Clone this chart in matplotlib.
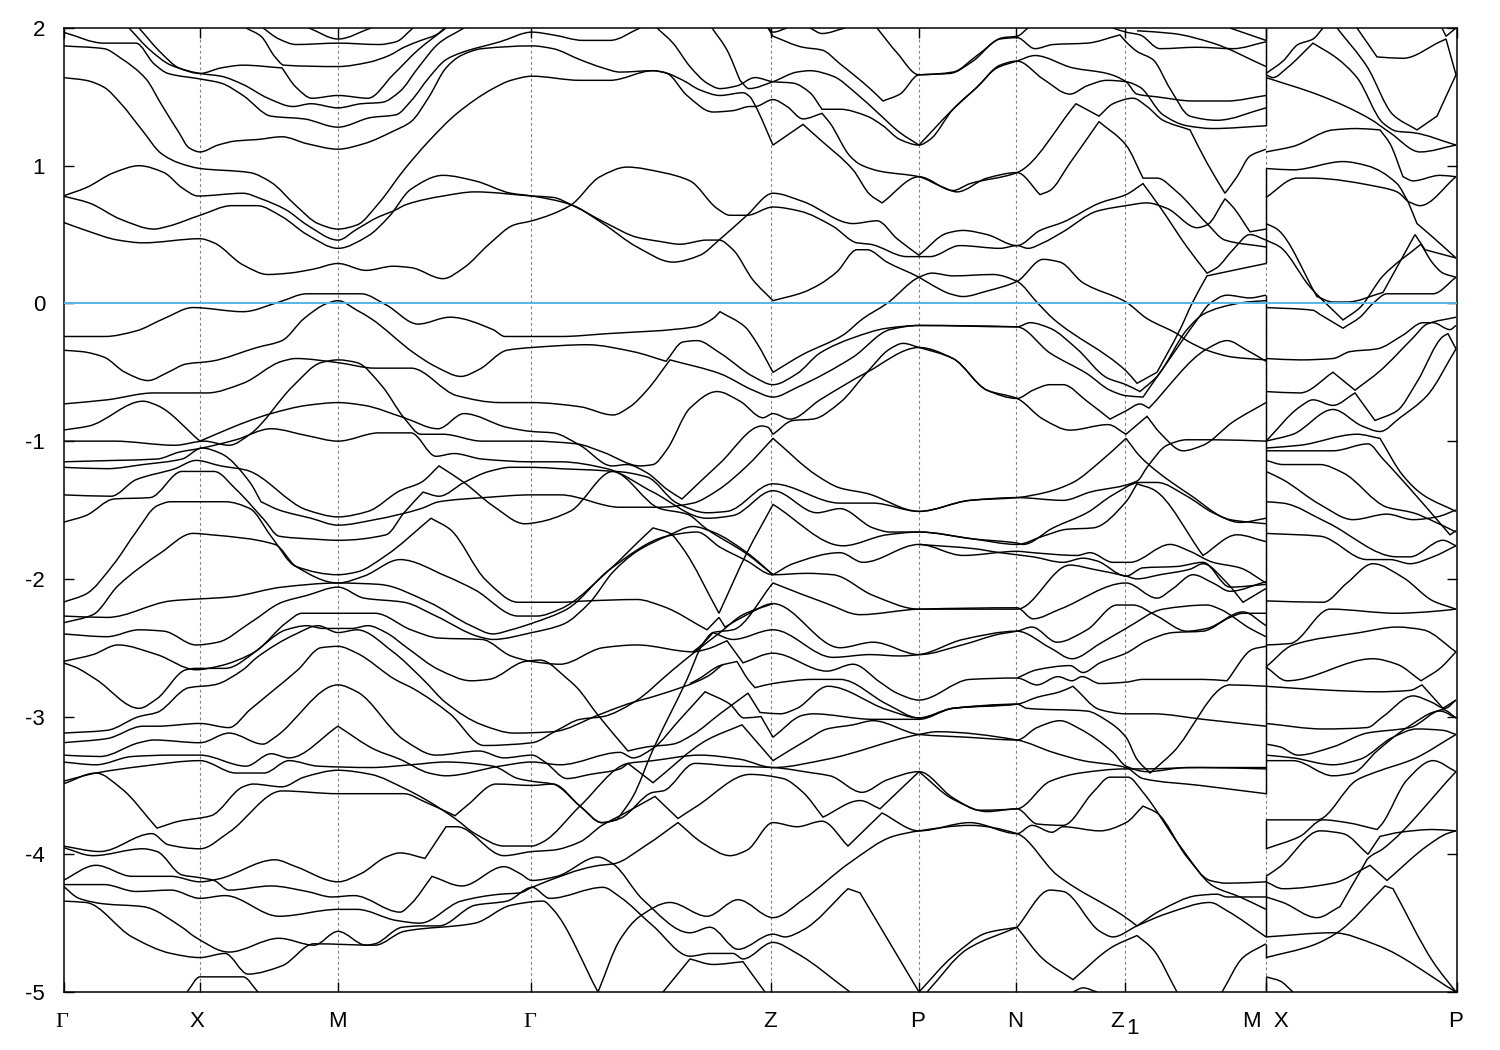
import matplotlib
matplotlib.use('Agg')
import matplotlib.pyplot as plt
from matplotlib.path import Path
from matplotlib.patches import PathPatch
from matplotlib.transforms import ScaledTranslation

plt.rcParams['font.family'] = ['Liberation Sans', 'DejaVu Sans']

tick_k = [64, 200, 338, 531, 771, 919, 1016, 1125, 1266, 1457]
tick_names = ['\u0393', 'X', 'M', '\u0393', 'Z', 'P', 'N', 'Z', 'M  X', 'P']
label_shift = [-2, -3, -1, -1, -1, -1, -1, -8, 0, -1]
energy_ticks = [-5, -4, -3, -2, -1, 0, 1, 2]

# solid black runs at the M|X break (bands jump there)
jump_low = [1.29, 0.29, -3.56, -3.96, -4.60, -4.75, -5.0]
jump_high = [2.0, 0.98, 0.06, -3.75, -4.16, -4.65, -4.89]

# bands above the Fermi level, first part of the path
b_top1 = [(63,1.97),(104,1.89),(136,1.89),(154,1.74),(168,1.67),(200,1.63),(221,1.60),(243,1.51),(271,1.36),(304,1.34),(338,1.28),(371,1.35),(396,1.37),(411,1.47),(429,1.64),(446,1.77),(461,1.82),(500,1.90),(532,1.97),(553,1.95),(583,1.91),(610,1.91),(640,2.0)]
b_top2 = [(63,1.87),(104,1.85),(121,1.78),(146,1.63),(161,1.45),(179,1.24),(189,1.13),(200,1.10),(218,1.15),(236,1.18),(257,1.19),(282,1.21),(307,1.16),(338,1.12),(364,1.16),(393,1.25),(411,1.32),(429,1.50),(446,1.71),(461,1.80),(482,1.85),(532,1.87),(553,1.85),(580,1.77),(603,1.71),(620,1.68),(653,1.69),(663,1.68),(683,1.62),(700,1.55),(720,1.51),(743,1.53),(750,1.50),(755,1.44),(773,1.15),(803,1.30),(820,1.19),(853,.97),(870,.79),(882,.73),(919,.92),(953,.82),(970,.87),(1017,.95),(1076,1.45),(1099,1.36),(1113,1.45),(1133,1.49),(1147,1.43),(1163,1.33),(1190,1.26),(1207,1.02),(1225,.80),(1237,.92),(1250,1.07),(1266,1.12)]
b_top3 = [(63,1.64),(86,1.62),(104,1.57),(121,1.45),(143,1.25),(161,1.09),(179,1.02),(200,.98),(250,.95),(271,.88),(296,.71),(318,.58),(338,.54),(357,.57),(379,.73),(404,.97),(429,1.18),(457,1.38),(493,1.56),(511,1.62),(532,1.65),(580,1.62),(610,1.62),(653,1.69),(667,1.67),(687,1.51),(713,1.39),(733,1.40),(750,1.43),(755,1.43),(773,1.48),(787,1.43),(803,1.34),(822,1.38),(830,1.31),(850,1.07),(860,1.01),(880,.96),(919,.92),(941,.85),(957,.81),(987,.91),(1017,.95),(1040,.79),(1050,.82),(1070,1.02),(1099,1.32),(1126,1.15),(1143,.91),(1157,.91),(1177,.81),(1207,.58),(1225,.46),(1266,.41)]
b_top4 = [(129,2.0),(150,1.84),(171,1.73),(200,1.67),(221,1.65),(243,1.59),(268,1.49),(293,1.43),(311,1.45),(338,1.42),(361,1.45),(382,1.46),(400,1.54),(418,1.71),(439,1.89),(464,2.0)]
b_top5 = [(139,2.0),(161,1.82),(179,1.71),(200,1.67),(221,1.71),(243,1.73),(282,1.71),(296,1.57),(312,1.49),(338,1.51),(368,1.49),(393,1.66),(418,1.84),(446,2.0)]
b_top6 = [(246,2.0),(261,1.94),(275,1.79),(284,1.73),(338,1.72),(368,1.75),(389,1.80),(404,1.86),(421,1.91),(436,1.95),(445,2.0)]
b_top7 = [(263,2.0),(279,1.92),(296,1.88),(338,1.89),(379,1.88),(396,1.90),(413,2.0)]
b_top8 = [(309,2.0),(338,1.92),(371,2.0)]
b_top9 = [(657,2.0),(673,1.89),(690,1.72),(707,1.60),(720,1.56),(737,1.58),(755,1.64),(773,1.61),(793,1.60),(810,1.53),(822,1.41),(840,1.41),(867,1.36),(883,1.29),(900,1.19),(919,1.15),(930,1.19),(953,1.41),(977,1.57),(997,1.71),(1017,1.76),(1035,1.80),(1073,1.71),(1107,1.67),(1126,1.61),(1137,1.52),(1157,1.50),(1193,1.47),(1227,1.47),(1266,1.51)]
b_top10 = [(712,2.0),(727,1.84),(740,1.62),(749,1.56),(773,1.61),(797,1.68),(810,1.69),(833,1.65),(857,1.52),(877,1.39),(900,1.24),(919,1.15),(953,1.41),(977,1.57),(1000,1.73),(1017,1.76),(1043,1.63),(1070,1.52),(1087,1.58),(1107,1.62),(1126,1.61),(1140,1.57),(1163,1.37),(1187,1.29),(1213,1.27),(1266,1.29)]
b_top11 = [(768,2.0),(773,1.94),(803,1.86),(822,1.84),(840,1.74),(870,1.56),(883,1.47),(900,1.52),(919,1.66),(950,1.67),(973,1.76),(1000,1.92),(1017,1.93),(1035,1.85),(1053,1.88),(1087,1.89),(1120,1.95),(1126,1.90),(1137,1.83),(1153,1.77),(1170,1.56),(1190,1.36),(1217,1.33),(1266,1.42)]
b_top12 = [(768,2.0),(773,1.97),(787,2.0)]
b_top13 = [(810,2.0),(822,1.96),(845,2.0)]
b_top14 = [(877,2.0),(897,1.82),(919,1.66),(953,1.68),(977,1.80),(1003,1.93),(1017,1.94),(1028,2.0)]
b_top15 = [(1113,2.0),(1126,1.97),(1140,1.95),(1160,1.85),(1197,1.86),(1233,1.85),(1266,1.90)]
b_top16 = [(1137,1.98),(1173,1.96),(1213,1.89),(1266,1.72)]
b_top17 = [(1230,2.0),(1266,1.91)]

# bands around 0.5 eV
b_mid1 = [(63,.78),(86,.84),(114,.95),(139,1.0),(164,.95),(182,.84),(198,.78),(243,.80),(261,.76),(286,.68),(307,.57),(338,.46),(357,.54),(379,.63),(393,.67),(407,.72),(443,.78),(475,.81),(532,.78),(553,.77),(573,.71),(607,.58),(637,.48),(660,.45),(680,.43),(707,.46),(719,.46),(733,.39),(753,.17),(773,.02),(803,.08),(820,.14),(837,.23),(857,.39),(867,.39),(887,.30),(919,.19),(933,.13),(950,.07),(963,.05),(987,.09),(1017,.16),(1043,.32),(1060,.30),(1083,.15),(1126,.01),(1147,-.11),(1177,-.22),(1187,-.27),(1207,-.34),(1233,-.39),(1266,-.41)]
b_mid2 = [(63,.78),(89,.73),(121,.61),(154,.54),(168,.56),(200,.64),(232,.71),(257,.71),(282,.63),(307,.50),(338,.40),(368,.49),(389,.63),(411,.83),(443,.93),(475,.89),(511,.80),(532,.78),(570,.72),(603,.58),(637,.41),(673,.30),(700,.35),(719,.46),(747,.64),(773,.80),(803,.74),(853,.58),(877,.60),(897,.47),(919,.35),(947,.51),(963,.53),(987,.50),(1017,.42),(1040,.53),(1063,.59),(1100,.73),(1126,.79),(1143,.87),(1160,.70),(1187,.41),(1207,.22),(1217,.26),(1233,.39),(1250,.50),(1266,.46)]
b_mid3 = [(63,.59),(86,.53),(118,.46),(143,.44),(200,.47),(214,.44),(243,.28),(268,.21),(289,.22),(314,.25),(338,.29),(366,.24),(393,.27),(411,.26),(443,.18),(464,.26),(489,.43),(514,.57),(532,.60),(570,.71),(600,.92),(627,.99),(663,.95),(690,.89),(717,.69),(730,.64),(747,.64),(773,.70),(800,.67),(833,.56),(857,.44),(870,.43),(907,.34),(930,.34),(960,.42),(1000,.40),(1017,.42),(1028,.40),(1043,.44),(1063,.52),(1097,.67),(1126,.71),(1147,.73),(1167,.69),(1197,.55),(1207,.57),(1225,.76),(1233,.70),(1250,.52),(1266,.54)]
b_fermi = [(63,-.24),(105,-.24),(136,-.20),(164,-.11),(193,-.03),(243,-.06),(279,.01),(307,.07),(361,.07),(386,-.01),(418,-.15),(450,-.10),(493,-.19),(505,-.24),(561,-.24),(606,-.22),(695,-.17),(713,-.11),(720,-.06),(745,-.17),(757,-.29),(773,-.50),(803,-.37),(843,-.23),(863,-.11),(887,0),(919,.19),(932,.22),(953,.20),(993,.21),(1017,.16),(1038,0),(1053,-.11),(1126,-.49),(1137,-.58),(1157,-.50),(1180,-.19),(1192,0),(1207,.20),(1233,.24),(1266,.29)]

# bands just below the Fermi level
b_low1 = [(63,-.34),(82,-.35),(104,-.39),(125,-.50),(148,-.56),(168,-.50),(186,-.44),(211,-.42),(257,-.32),(282,-.27),(304,-.11),(327,0),(338,.02),(357,-.05),(371,-.11),(414,-.36),(436,-.46),(461,-.53),(479,-.48),(507,-.34),(532,-.32),(587,-.30),(633,-.35),(666,-.42),(683,-.28),(697,-.27),(720,-.36),(753,-.53),(773,-.59),(797,-.51),(820,-.36),(853,-.25),(887,-.18),(920,-.16),(1017,-.17),(1050,-.36),(1087,-.51),(1110,-.63),(1126,-.67),(1143,-.68),(1167,-.43),(1197,-.12),(1210,0),(1227,.06),(1250,.04),(1266,.06)]
b_low2 = [(63,-.73),(107,-.70),(154,-.65),(207,-.65),(243,-.58),(282,-.42),(296,-.40),(338,-.43),(375,-.47),(411,-.47),(457,-.67),(500,-.72),(532,-.72),(580,-.75),(613,-.81),(630,-.75),(647,-.63),(670,-.41),(720,-.51),(753,-.63),(773,-.68),(797,-.61),(853,-.39),(890,-.19),(919,-.16),(1017,-.17),(1030,-.14),(1050,-.18),(1077,-.33),(1107,-.54),(1126,-.59),(1140,-.64),(1157,-.53),(1187,-.19),(1203,-.08),(1220,-.03),(1247,.01),(1266,.02)]
b_low3 = [(63,-.92),(89,-.89),(143,-.71),(157,-.74),(200,-1.0),(229,-.91),(250,-.85),(271,-.80),(307,-.74),(338,-.72),(364,-.74),(404,-.83),(438,-.91),(464,-.80),(507,-.90),(532,-.93),(553,-.94),(580,-1.03),(612,-1.18),(627,-1.17),(647,-1.23),(667,-1.35),(682,-1.42),(720,-1.16),(762,-.89),(768,-.90),(773,-.95),(793,-.85),(813,-.84),(840,-.72),(867,-.50),(890,-.33),(903,-.29),(919,-.32),(953,-.40),(987,-.63),(1017,-.69),(1033,-.63),(1050,-.59),(1063,-.59),(1087,-.71),(1110,-.84),(1126,-.78),(1140,-.73),(1149,-.76),(1207,-.33),(1227,-.27),(1247,-.34),(1266,-.42)]
b_low4 = [(63,-1.0),(114,-1.0),(175,-1.03),(204,-1.0),(229,-1.03),(250,-.95),(293,-.60),(321,-.43),(338,-.41),(357,-.43),(382,-.60),(404,-.83),(421,-.95),(443,-.95),(482,-1.0),(532,-1.0),(577,-1.02),(603,-1.08),(640,-1.18),(653,-1.17),(667,-1.06),(690,-.76),(717,-.64),(740,-.71),(763,-.83),(773,-.80),(790,-.84),(820,-.70),(867,-.50),(919,-.32),(953,-.40),(987,-.63),(1017,-.69),(1043,-.84),(1070,-.92),(1108,-.88),(1126,-.95),(1147,-.82),(1160,-.94),(1183,-1.07),(1203,-1.03),(1233,-.86),(1266,-.72)]

# the -1 to -2.5 eV block
b_c1 = [(63,-1.15),(114,-1.14),(157,-1.13),(179,-1.08),(202,-1.05),(236,-.99),(271,-.91),(307,-.96),(338,-1.0),(379,-.94),(411,-.94),(436,-1.11),(454,-1.09),(482,-1.13),(532,-1.15),(560,-1.15),(607,-1.20),(653,-1.37),(707,-1.56),(733,-1.54),(773,-1.36),(817,-1.52),(840,-1.49),(873,-1.63),(890,-1.66),(919,-1.66),(973,-1.71),(1017,-1.74),(1023,-1.75),(1053,-1.63),(1087,-1.52),(1113,-1.39),(1140,-1.30),(1157,-1.30),(1187,-1.40),(1213,-1.52),(1240,-1.59),(1266,-1.56)]
b_c2 = [(63,-1.19),(107,-1.20),(143,-1.17),(182,-1.13),(202,-1.05),(221,-1.09),(250,-1.30),(261,-1.44),(279,-1.50),(311,-1.56),(338,-1.61),(375,-1.57),(421,-1.49),(439,-1.44),(484,-1.41),(532,-1.39),(560,-1.39),(620,-1.48),(660,-1.48),(693,-1.45),(717,-1.36),(747,-1.18),(773,-.98),(817,-1.25),(840,-1.34),(867,-1.38),(919,-1.51),(970,-1.43),(1017,-1.41),(1047,-1.37),(1073,-1.30),(1100,-1.15),(1126,-.98),(1140,-1.11),(1157,-1.22),(1190,-1.39),(1230,-1.57),(1266,-1.60)]
b_c3 = [(63,-1.39),(111,-1.40),(136,-1.28),(175,-1.20),(196,-1.14),(221,-1.18),(246,-1.21),(307,-1.50),(338,-1.55),(368,-1.51),(400,-1.36),(421,-1.30),(439,-1.18),(464,-1.30),(493,-1.47),(525,-1.60),(537,-1.59),(570,-1.51),(613,-1.22),(647,-1.26),(677,-1.45),(707,-1.52),(727,-1.51),(773,-1.31),(840,-1.45),(873,-1.45),(919,-1.51),(970,-1.43),(1017,-1.41),(1063,-1.43),(1090,-1.37),(1137,-1.29),(1148,-1.18),(1167,-1.03),(1187,-.99),(1213,-.99),(1266,-1.0)]
b_c4 = [(63,-1.59),(86,-1.54),(114,-1.42),(150,-1.41),(182,-1.22),(214,-1.22),(236,-1.35),(264,-1.57),(279,-1.69),(311,-1.71),(338,-1.72),(386,-1.68),(404,-1.52),(423,-1.37),(439,-1.40),(464,-1.30),(489,-1.22),(511,-1.19),(532,-1.19),(560,-1.20),(613,-1.22),(660,-1.49),(687,-1.53),(707,-1.64),(747,-1.82),(773,-1.97),(793,-1.89),(840,-1.81),(863,-1.88),(919,-1.75),(963,-1.83),(1017,-1.80),(1033,-1.81),(1077,-1.83),(1090,-1.81),(1113,-1.88),(1130,-1.88),(1170,-1.75),(1190,-1.80),(1213,-1.88),(1240,-1.92),(1266,-2.03)]
b_c5 = [(63,-2.17),(86,-2.11),(114,-1.89),(136,-1.66),(157,-1.47),(171,-1.44),(225,-1.44),(250,-1.49),(271,-1.69),(296,-1.91),(338,-1.97),(357,-1.95),(386,-1.83),(431,-1.56),(450,-1.64),(486,-2.01),(518,-2.17),(560,-2.17),(587,-2.16),(637,-2.15),(663,-2.20),(707,-2.37),(719,-2.28),(725,-2.35),(747,-2.26),(773,-2.18),(840,-2.50),(873,-2.46),(919,-2.55),(962,-2.48),(1000,-2.40),(1017,-2.38),(1032,-2.35),(1057,-2.46),(1087,-2.37),(1117,-2.19),(1133,-2.19),(1157,-2.27),(1187,-2.38),(1207,-2.36),(1243,-2.24),(1266,-2.34)]
b_c6 = [(63,-2.32),(93,-2.26),(118,-2.05),(161,-1.81),(193,-1.67),(211,-1.68),(275,-1.75),(296,-1.91),(338,-2.03),(364,-1.98),(400,-1.86),(446,-1.98),(475,-2.08),(518,-2.27),(537,-2.27),(560,-2.22),(613,-1.91),(637,-1.74),(653,-1.63),(670,-1.67),(683,-1.78),(719,-2.25),(747,-1.81),(773,-1.46),(843,-1.76),(887,-1.68),(919,-1.66),(973,-1.71),(1017,-1.75),(1043,-1.69),(1067,-1.64),(1093,-1.63),(1126,-1.44),(1137,-1.31),(1153,-1.35),(1203,-1.83),(1237,-1.68),(1266,-1.73)]
b_c7 = [(63,-2.27),(107,-2.28),(171,-2.16),(232,-2.13),(282,-2.06),(338,-2.03),(379,-2.04),(429,-2.17),(471,-2.34),(493,-2.40),(511,-2.37),(533,-2.32),(567,-2.22),(610,-1.93),(667,-1.69),(697,-1.66),(720,-1.77),(747,-1.87),(773,-1.97),(807,-1.96),(833,-1.97),(873,-2.12),(919,-2.22),(1017,-2.22),(1070,-1.90),(1093,-1.93),(1126,-1.98),(1137,-2.0),(1160,-1.97),(1190,-1.93),(1203,-1.89),(1227,-2.03),(1243,-2.17),(1266,-2.07)]
b_c8 = [(63,-2.40),(107,-2.42),(139,-2.37),(164,-2.38),(196,-2.48),(218,-2.46),(250,-2.32),(282,-2.17),(307,-2.12),(338,-2.06),(364,-2.14),(404,-2.17),(436,-2.27),(479,-2.42),(493,-2.44),(532,-2.39),(563,-2.33),(590,-2.17),(613,-1.95),(637,-1.80),(667,-1.69),(693,-1.62),(713,-1.66),(747,-1.81),(773,-1.97)]
b_c9 = [(63,-2.60),(93,-2.55),(118,-2.48),(157,-2.55),(196,-2.66),(221,-2.63),(250,-2.55),(286,-2.37),(307,-2.34),(323,-2.36),(352,-2.36),(368,-2.34),(386,-2.39),(407,-2.50),(439,-2.66),(471,-2.74),(489,-2.73),(525,-2.60),(540,-2.59),(568,-2.73),(577,-2.79),(598,-2.99),(628,-3.25),(647,-3.22),(673,-3.20),(693,-3.13),(720,-2.98),(748,-2.83),(760,-2.97),(780,-2.98),(797,-2.94),(828,-2.78),(887,-2.95),(919,-3.01),(953,-2.94),(1017,-2.91),(1027,-2.94),(1087,-2.96),(1107,-3.03),(1126,-3.15),(1137,-3.31),(1150,-3.41),(1173,-3.26),(1230,-2.77),(1266,-2.78)]
b_c10 = [(63,-2.61),(75,-2.64),(96,-2.73),(139,-2.94),(157,-2.87),(186,-2.66),(196,-2.65),(225,-2.65),(257,-2.52),(286,-2.32),(302,-2.25),(375,-2.25),(411,-2.37),(439,-2.43),(482,-2.44),(511,-2.56),(532,-2.60),(560,-2.62),(603,-2.50),(637,-2.48),(693,-2.53),(707,-2.51),(727,-2.45),(743,-2.61),(773,-2.54),(827,-2.67),(853,-2.62),(880,-2.75),(897,-2.83),(919,-2.88),(970,-2.73),(1017,-2.72),(1037,-2.77),(1058,-2.71),(1072,-2.74),(1082,-2.71),(1100,-2.76),(1126,-2.75),(1143,-2.73),(1203,-2.73),(1227,-2.74),(1253,-2.51),(1266,-2.49)]

# -3 to -5 eV block
b_q1 = [(63,-3.12),(107,-3.10),(139,-3.0),(157,-2.97),(189,-2.79),(214,-2.77),(243,-2.66),(257,-2.57),(296,-2.40),(318,-2.34),(338,-2.39),(357,-2.37),(393,-2.53),(423,-2.73),(446,-2.90),(482,-3.06),(514,-3.12),(553,-3.11),(598,-2.99),(627,-2.91),(660,-2.84),(707,-2.71),(723,-2.62)]
b_q2 = [(63,-3.19),(107,-3.16),(143,-3.07),(157,-3.07),(200,-3.05),(229,-3.08),(250,-2.95),(275,-2.80),(298,-2.66),(321,-2.50),(338,-2.49),(357,-2.54),(395,-2.73),(414,-2.80),(450,-2.98),(484,-3.21),(532,-3.19),(557,-3.10),(580,-3.02),(603,-3.0),(633,-2.90),(673,-2.66),(695,-2.53),(720,-2.39),(743,-2.26),(773,-2.18)]
b_q3 = [(63,-3.28),(100,-3.29),(139,-3.19),(154,-3.17),(200,-3.19),(229,-3.12),(263,-3.20),(275,-3.15),(338,-2.77),(357,-2.82),(404,-3.17),(436,-3.28),(479,-3.25),(504,-3.30),(532,-3.28),(545,-3.33),(567,-3.45),(590,-3.42),(620,-3.38),(628,-3.34),(653,-3.48),(707,-3.17),(742,-3.06),(773,-3.32),(807,-3.17),(827,-3.09),(853,-3.06),(873,-3.03),(919,-3.13),(967,-3.15),(1017,-3.17),(1037,-3.08),(1060,-3.03),(1080,-3.09),(1113,-3.26),(1126,-3.36),(1147,-3.40),(1187,-3.37),(1266,-3.37)]
b_q4 = [(63,-3.33),(96,-3.35),(132,-3.29),(171,-3.28),(200,-3.28),(246,-3.36),(271,-3.27),(289,-3.30),(338,-3.07),(375,-3.24),(400,-3.31),(429,-3.41),(446,-3.43),(500,-3.36),(532,-3.33),(560,-3.35),(620,-3.26),(633,-3.30),(653,-3.23),(680,-3.02),(705,-2.82),(730,-2.91),(744,-3.01),(761,-3.0),(773,-3.15),(803,-2.99),(813,-2.98),(873,-3.02),(919,-3.02),(953,-2.94),(1017,-2.91),(1037,-2.86),(1060,-2.82),(1073,-2.78),(1100,-2.95),(1126,-2.98),(1153,-2.98),(1203,-3.02),(1266,-3.07)]
b_q5 = [(63,-3.47),(96,-3.41),(143,-3.36),(200,-3.32),(236,-3.41),(264,-3.41),(289,-3.32),(318,-3.36),(371,-3.37),(411,-3.35),(446,-3.33),(493,-3.36),(518,-3.45),(532,-3.47),(553,-3.49),(580,-3.65),(602,-3.77),(617,-3.75),(633,-3.58),(653,-3.24),(687,-2.73),(703,-2.47),(713,-2.39),(733,-2.37),(773,-2.03),(827,-2.18),(860,-2.26),(919,-2.22),(1017,-2.21),(1033,-2.29),(1060,-2.22),(1126,-2.03),(1157,-2.14),(1173,-2.07),(1193,-1.97),(1213,-2.03),(1230,-2.09),(1266,-2.02)]
b_q6 = [(63,-3.49),(96,-3.41),(121,-3.52),(157,-3.81),(179,-3.76),(211,-3.72),(243,-3.51),(253,-3.49),(282,-3.51),(304,-3.44),(338,-3.39),(371,-3.42),(404,-3.52),(425,-3.60),(455,-3.74),(475,-3.85),(504,-3.94),(532,-3.94),(543,-3.91),(580,-3.65),(628,-3.34),(653,-3.32),(700,-3.28),(740,-3.31),(773,-3.37),(827,-3.31),(919,-3.13),(937,-3.11),(1017,-3.17),(1053,-3.26),(1083,-3.32),(1126,-3.37),(1143,-3.45),(1200,-3.50),(1266,-3.56)]
b_q7 = [(63,-3.94),(100,-3.98),(152,-3.85),(168,-3.93),(200,-3.96),(229,-3.84),(282,-3.54),(338,-3.56),(404,-3.56),(425,-3.62),(455,-3.72),(468,-3.64),(496,-3.49),(532,-3.50),(553,-3.49),(580,-3.65),(602,-3.77),(620,-3.74),(653,-3.55),(663,-3.54),(695,-3.34),(733,-3.36),(773,-3.37),(813,-3.41),(830,-3.43),(862,-3.55),(887,-3.46),(919,-3.40),(953,-3.59),(980,-3.68),(1017,-3.67),(1050,-3.47),(1080,-3.41),(1126,-3.38),(1143,-3.38),(1200,-3.37),(1266,-3.38)]
b_q8 = [(63,-3.95),(93,-4.01),(143,-3.96),(157,-3.98),(182,-4.15),(200,-4.17),(214,-4.19),(229,-4.26),(271,-4.23),(307,-4.27),(332,-4.31),(354,-4.30),(400,-4.42),(411,-4.36),(432,-4.16),(462,-4.23),(504,-4.09),(520,-4.14),(532,-4.19),(557,-4.16),(598,-4.02),(613,-4.07),(643,-4.33),(690,-4.57),(710,-4.53),(738,-4.69),(773,-4.58),(785,-4.60),(803,-4.55),(848,-4.25),(860,-4.28),(919,-5.0)]
b_q9 = [(63,-4.19),(96,-4.08),(132,-4.16),(171,-4.16),(200,-4.20),(218,-4.18),(275,-4.04),(296,-4.09),(338,-4.20),(361,-4.14),(386,-4.02),(400,-3.99),(425,-4.03),(446,-3.80),(457,-3.80),(504,-4.01),(532,-3.98),(553,-3.97),(580,-3.91),(602,-3.79),(620,-3.72),(655,-3.58),(678,-3.74),(697,-3.65),(750,-3.42),(783,-3.45),(803,-3.55),(823,-3.73),(860,-3.61),(880,-3.67),(919,-3.40),(953,-3.60),(987,-3.69),(1017,-3.67),(1037,-3.78),(1063,-3.79),(1093,-3.55),(1110,-3.44),(1128,-3.44),(1143,-3.55),(1180,-3.94),(1213,-4.23),(1240,-4.31),(1266,-4.40)]
b_q10 = [(63,-4.22),(104,-4.22),(136,-4.27),(171,-4.26),(200,-4.32),(225,-4.30),(279,-4.45),(338,-4.40),(357,-4.40),(396,-4.48),(420,-4.50),(461,-4.34),(500,-4.29),(520,-4.28),(532,-4.24),(600,-4.08),(613,-4.07),(647,-3.93),(678,-3.77),(703,-3.92),(730,-4.01),(747,-3.97),(773,-3.77),(797,-3.80),(822,-3.76),(848,-3.94),(882,-3.70),(919,-3.83),(970,-3.77),(1017,-3.85),(1032,-3.79),(1052,-3.84),(1063,-3.80),(1100,-3.83),(1126,-3.77),(1143,-3.65),(1157,-3.70),(1187,-4.02),(1210,-4.19),(1227,-4.21),(1266,-4.20)]
b_q11 = [(63,-4.23),(79,-4.32),(104,-4.36),(143,-4.38),(182,-4.53),(195,-4.60),(229,-4.71),(279,-4.61),(314,-4.66),(338,-4.56),(366,-4.66),(375,-4.65),(402,-4.53),(421,-4.52),(439,-4.52),(475,-4.37),(507,-4.34),(532,-4.24),(550,-4.32),(603,-4.24),(620,-4.31),(653,-4.52),(690,-4.74),(710,-4.72),(733,-4.72),(743,-4.76),(773,-4.64),(797,-4.72),(850,-5.0)]
b_q12 = [(63,-4.34),(86,-4.35),(132,-4.60),(171,-4.72),(200,-4.75),(225,-4.72),(248,-4.87),(282,-4.81),(314,-4.65),(375,-4.66),(404,-4.56),(475,-4.50),(511,-4.37),(543,-4.34),(553,-4.40),(598,-5.0),(620,-4.62),(640,-4.45),(670,-4.35),(707,-4.45),(738,-4.33),(773,-4.46),(803,-4.33),(850,-4.06),(893,-3.87),(919,-3.83),(970,-3.79),(1017,-3.85),(1057,-4.15),(1126,-4.46),(1137,-4.52),(1160,-4.41),(1197,-4.30),(1217,-4.29),(1227,-4.31),(1266,-4.31)]
b_q13 = [(693,-2.53),(703,-2.47),(713,-2.39),(733,-2.44),(773,-2.37),(833,-2.57),(870,-2.55),(900,-2.56),(919,-2.55),(963,-2.44),(1017,-2.38),(1050,-2.50),(1072,-2.58),(1100,-2.47),(1126,-2.36),(1163,-2.22),(1207,-2.19),(1220,-2.22),(1250,-2.36),(1266,-2.42)]
b_q14 = [(690,-2.76),(698,-2.73),(720,-2.63),(737,-2.60),(748,-2.73),(755,-2.79),(773,-2.76),(813,-2.73),(840,-2.73),(887,-2.91),(919,-3.01),(953,-2.94),(1017,-2.91)]
b_q15 = [(919,-1.75),(973,-1.78),(1000,-1.81),(1033,-1.84),(1063,-1.88),(1083,-1.85),(1097,-1.87),(1126,-1.98),(1143,-1.92),(1177,-1.91),(1203,-1.88),(1230,-2.06),(1266,-2.04)]
b_q16 = [(1017,-2.72),(1037,-2.66),(1070,-2.63),(1083,-2.68),(1100,-2.61),(1126,-2.54),(1147,-2.45),(1173,-2.39),(1203,-2.38),(1230,-2.28),(1243,-2.25),(1266,-2.25)]
b_q17 = [(1017,-4.53),(1050,-4.26),(1063,-4.27),(1100,-4.56),(1113,-4.60),(1137,-4.52),(1167,-4.43),(1210,-4.35),(1227,-4.41),(1266,-4.60)]
b_q18 = [(1017,-4.53),(1043,-4.76),(1073,-4.91),(1113,-4.67),(1137,-4.59),(1153,-4.69),(1177,-5.0)]
b_q19 = [(1222,-5.0),(1243,-4.75),(1266,-4.65)]
b_q20 = [(1073,-5.0),(1083,-4.97),(1097,-5.0)]
b_q21 = [(919,-5.0),(953,-4.74),(987,-4.57),(1017,-4.53)]
b_q22 = [(927,-5.0),(967,-4.69),(1017,-4.53)]
b_q23 = [(663,-5.0),(690,-4.76),(713,-4.80),(743,-4.78),(765,-5.0)]
b_q24 = [(187,-5.0),(200,-4.89),(243,-4.89),(258,-5.0)]

# X - P panel
r_1 = [(1266,1.67),(1283,1.76),(1298,1.88),(1313,1.92),(1323,2.0)]
r_2 = [(1266,1.66),(1273,1.64),(1287,1.71),(1313,1.89),(1337,1.78),(1357,1.64),(1383,1.31),(1397,1.25),(1413,1.24),(1456,1.15)]
r_3 = [(1266,1.64),(1320,1.51),(1370,1.34),(1390,1.24),(1420,1.10),(1456,1.15)]
r_4 = [(1337,2.0),(1367,1.72),(1393,1.37),(1417,1.26),(1437,1.36),(1456,1.66)]
r_5 = [(1357,2.0),(1377,1.79),(1403,1.78),(1440,1.90),(1446,1.92),(1456,1.66)]
r_6 = [(1442,2.0),(1446,1.94),(1456,2.0)]
r_7 = [(1266,1.10),(1293,1.14),(1333,1.26),(1357,1.27),(1380,1.26),(1390,1.16),(1403,.92),(1413,.89),(1440,.93),(1456,.92)]
r_8 = [(1266,.98),(1293,.97),(1343,1.03),(1367,1.0),(1397,.87),(1408,.74),(1420,.71),(1456,.92)]
r_9 = [(1266,.77),(1297,.91),(1310,.91),(1383,.84),(1397,.81),(1408,.74),(1417,.58),(1433,.48),(1456,.33)]
r_10 = [(1266,.58),(1277,.54),(1317,.05),(1333,.01),(1347,.01),(1383,.08),(1415,.50),(1425,.39),(1456,.33)]
r_11 = [(1266,.46),(1280,.41),(1310,.12),(1343,-.12),(1360,-.03),(1383,.20),(1421,.43),(1433,.29),(1443,.22),(1456,.19)]
r_12 = [(1266,-.03),(1313,-.05),(1320,-.08),(1343,-.18),(1360,-.10),(1373,0),(1387,.07),(1420,.07),(1433,.07),(1456,.19)]
r_13 = [(1266,-.40),(1300,-.41),(1333,-.40),(1350,-.35),(1377,-.33),(1403,-.23),(1423,-.14),(1433,-.14),(1450,-.19),(1456,-.16)]
r_14 = [(1266,-.64),(1300,-.65),(1333,-.50),(1355,-.63),(1380,-.49),(1413,-.25),(1427,-.15),(1456,-.10)]
r_15 = [(1266,-1.0),(1300,-.75),(1313,-.70),(1333,-.74),(1355,-.65),(1375,-.85),(1397,-.78),(1417,-.57),(1443,-.24),(1448,-.22),(1456,-.33)]
r_16 = [(1266,-1.0),(1293,-.95),(1333,-.77),(1362,-.89),(1380,-.93),(1400,-.83),(1427,-.67),(1456,-.33)]
r_17 = [(1266,-1.05),(1300,-1.03),(1357,-.95),(1380,-.98),(1403,-1.25),(1423,-1.39),(1456,-1.51)]
r_18 = [(1266,-1.07),(1333,-1.07),(1368,-1.02),(1383,-1.13),(1413,-1.37),(1450,-1.68),(1456,-1.65)]
r_19 = [(1266,-1.14),(1283,-1.17),(1320,-1.17),(1343,-1.23),(1387,-1.48),(1413,-1.52),(1433,-1.58),(1456,-1.66)]
r_20 = [(1266,-1.22),(1283,-1.28),(1320,-1.46),(1353,-1.57),(1387,-1.53),(1413,-1.57),(1437,-1.55),(1456,-1.50)]
r_21 = [(1266,-1.44),(1283,-1.45),(1327,-1.59),(1397,-1.84),(1410,-1.84),(1443,-1.72),(1456,-1.76)]
r_22 = [(1266,-1.67),(1320,-1.69),(1367,-1.86),(1390,-1.86),(1410,-1.89),(1433,-1.84),(1456,-1.76)]
r_23 = [(1266,-2.16),(1323,-2.17),(1347,-2.03),(1373,-1.89),(1403,-1.99),(1433,-2.16),(1456,-2.22)]
r_24 = [(1266,-2.48),(1290,-2.47),(1330,-2.22),(1397,-2.25),(1427,-2.24),(1456,-2.22)]
r_25 = [(1266,-2.64),(1293,-2.48),(1360,-2.39),(1397,-2.35),(1423,-2.37),(1456,-2.53)]
r_26 = [(1266,-2.64),(1287,-2.74),(1373,-2.58),(1397,-2.62),(1421,-2.74),(1440,-2.65),(1456,-2.53)]
r_27 = [(1266,-2.78),(1333,-2.81),(1377,-2.82),(1410,-2.81),(1422,-2.77),(1443,-2.94),(1456,-2.88)]
r_28 = [(1266,-3.05),(1323,-3.09),(1367,-3.08),(1383,-3.0),(1413,-2.85),(1430,-2.89),(1445,-2.94),(1456,-2.88)]
r_29 = [(1266,-3.20),(1280,-3.22),(1298,-3.28),(1333,-3.22),(1367,-3.12),(1410,-3.08),(1443,-2.95),(1456,-3.01)]
r_30 = [(1266,-3.28),(1293,-3.30),(1333,-3.35),(1360,-3.31),(1393,-3.15),(1417,-3.09),(1443,-3.10),(1456,-3.13)]
r_31 = [(1266,-3.32),(1293,-3.32),(1333,-3.43),(1353,-3.41),(1377,-3.25),(1407,-3.08),(1440,-2.96),(1456,-3.01)]
r_32 = [(1266,-3.75),(1317,-3.75),(1357,-3.46),(1377,-3.40),(1413,-3.31),(1456,-3.13)]
r_33 = [(1266,-3.96),(1300,-3.87),(1323,-3.75),(1347,-3.77),(1377,-3.82),(1382,-3.78),(1407,-3.46),(1433,-3.32),(1456,-3.40)]
r_34 = [(1266,-4.16),(1280,-4.09),(1320,-3.83),(1343,-3.85),(1368,-4.0),(1380,-3.87),(1400,-3.84),(1433,-3.82),(1456,-3.83)]
r_35 = [(1266,-4.20),(1283,-4.25),(1333,-4.21),(1370,-4.08),(1387,-4.19),(1427,-3.94),(1447,-3.85),(1456,-3.83)]
r_36 = [(1266,-4.31),(1283,-4.35),(1317,-4.46),(1340,-4.38),(1363,-4.09),(1368,-4.03),(1383,-3.96),(1456,-3.40)]
r_37 = [(1266,-4.60),(1333,-4.57),(1377,-4.66),(1456,-5.0)]
r_38 = [(1266,-4.75),(1313,-4.66),(1337,-4.57),(1385,-4.23),(1393,-4.25),(1433,-4.78),(1456,-5.0)]
r_39 = [(1266,-4.89),(1280,-4.92),(1293,-5.0)]


def band_path(band):
    # curved path through the read points, sharp turns stay sharp, no overshoot
    k = [p[0] for p in band]
    e = [p[1] for p in band]
    n = len(k)
    s = [(e[i + 1] - e[i]) / (k[i + 1] - k[i]) for i in range(n - 1)]
    left = [0.0] * n
    right = [0.0] * n
    left[-1] = s[-1]
    right[0] = s[0]
    for i in range(1, n - 1):
        if abs(s[i] - s[i - 1]) > 0.009:
            left[i], right[i] = s[i - 1], s[i]
        elif s[i] * s[i - 1] <= 0:
            left[i], right[i] = 0.0, 0.0
        else:
            h0, h1 = k[i] - k[i - 1], k[i + 1] - k[i]
            w0, w1 = 2 * h1 + h0, h1 + 2 * h0
            m = (w0 + w1) / (w0 / s[i - 1] + w1 / s[i])
            left[i], right[i] = m, m
    verts = [(k[0], e[0])]
    codes = [Path.MOVETO]
    for i in range(n - 1):
        h = (k[i + 1] - k[i]) / 3
        verts += [(k[i] + h, e[i] + right[i] * h), (k[i + 1] - h, e[i + 1] - left[i + 1] * h), (k[i + 1], e[i + 1])]
        codes += [Path.CURVE4] * 3
    return Path(verts, codes)


fig = plt.figure(figsize=(15, 10.5), dpi=100)
ax = fig.add_axes([64/1500, 58/1050, 1393/1500, 964/1050])

# every b_* and r_* list above is one band
for name, band in list(globals().items()):
    if name.startswith('b_') or name.startswith('r_'):
        ax.add_patch(PathPatch(band_path(band), fill=False, ec='black', lw=1.05, zorder=3))

for x in tick_k[1:-1]:
    ax.axvline(x, color='#808080', lw=0.8, ls=(0, (2.5, 2.5)), zorder=1)
ax.vlines([1266] * len(jump_low), jump_low, jump_high, color='black', lw=1.05, zorder=3)
ax.axhline(0, color='#56b4e9', lw=1.4, zorder=4)

ax.set_xlim(64, 1457)
ax.set_ylim(-5, 2)
ax.set_yticks(energy_ticks)
ax.set_yticklabels([str(v) for v in energy_ticks], fontsize=16)
ax.set_xticks(tick_k)
ax.set_xticklabels(tick_names, fontsize=16)
ax.tick_params(direction='in', length=7, width=1.0, top=True, right=True)
ax.tick_params(axis='y', pad=13.5)
ax.tick_params(axis='x', pad=25)
for lab, dx in zip(ax.get_xticklabels(), label_shift):
    lab.set_va('baseline')
    lab.set_transform(lab.get_transform() + ScaledTranslation(dx / 100, 0, fig.dpi_scale_trans))
    if lab.get_text() == '\u0393':
        lab.set_family(['Liberation Serif', 'DejaVu Serif'])
for s in ax.spines.values():
    s.set_linewidth(1.1)

# subscript of Z1
ax.annotate('1', xy=(1133, -5), xycoords='data', xytext=(0, -42), textcoords='offset pixels',
            fontsize=16, va='baseline', ha='center', annotation_clip=False)

fig.savefig('out.png', dpi=100)
